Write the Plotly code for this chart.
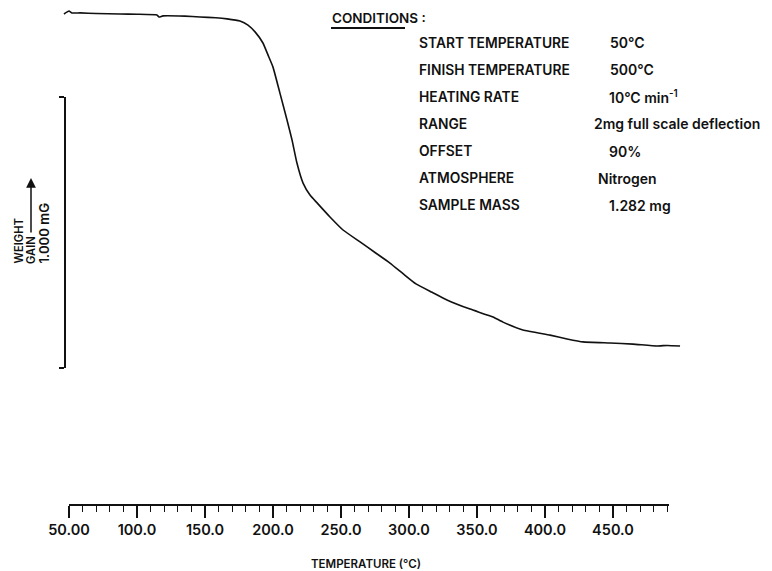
import plotly.graph_objects as go

# Thermogravimetric trace: temperature (°C) vs. sample weight (mg)
temperature_c = [46.3, 50.0, 52.2, 58.1, 70.0, 87.5, 100.0, 114.7, 116.2, 119.1,
                 135.0, 146.3, 158.0, 166.2, 175.7, 181.6, 186.8, 192.6, 196.3,
                 200.0, 205.1, 210.3, 214.0, 217.6, 222.1, 227.2, 232.4, 241.9,
                 251.5, 264.0, 275.0, 286.0, 296.0, 305.1, 317.0, 327.9, 344.9,
                 361.8, 369.1, 383.8, 403.7, 416.2, 428.0, 447.8, 464.7, 482.4,
                 490.0, 499.3]
weight_mg = [1.282, 1.293, 1.286, 1.286, 1.284, 1.282, 1.281, 1.278, 1.271, 1.275,
             1.274, 1.271, 1.268, 1.264, 1.256, 1.241, 1.216, 1.175, 1.131,
             1.086, 0.990, 0.891, 0.817, 0.732, 0.658, 0.614, 0.585, 0.533,
             0.485, 0.441, 0.402, 0.363, 0.322, 0.286, 0.255, 0.227, 0.193,
             0.164, 0.145, 0.116, 0.097, 0.083, 0.072, 0.068, 0.064, 0.057,
             0.059, 0.057]

# Weight scale bar (1.000 mg)
scale_ticks_mg = [0.0, 1.0]

# Temperature axis
axis_range_c = [50.0, 491.2]
axis_ticks_c = [50, 100, 150, 200, 250, 300, 350, 400, 450]
axis_tick_labels = ["50.00", "100.0", "150.0", "200.0", "250.0",
                    "300.0", "350.0", "400.0", "450.0"]

condition_labels = ["START TEMPERATURE", "FINISH TEMPERATURE", "HEATING RATE",
                    "RANGE", "OFFSET", "ATMOSPHERE", "SAMPLE MASS"]
condition_values = ["50°C", "500°C", "10°C min<sup>-1</sup>",
                    "2mg full scale deflection", "90%", "Nitrogen", "1.282 mg"]

W, H = 772, 571
INK = "#111111"
FONT = "Inter, Liberation Sans, Arial, sans-serif"
WT = 600


def px(x):
    return x / W


def py(y):
    return 1 - y / H


fig = go.Figure()

# main trace
fig.add_trace(go.Scatter(x=temperature_c, y=weight_mg, mode="lines",
                         line=dict(color=INK, width=1.6, shape="spline", smoothing=0.4),
                         xaxis="x", yaxis="y", hoverinfo="skip", showlegend=False))
# carriers for the scale bar and temperature axis
fig.add_trace(go.Scatter(x=[None], y=scale_ticks_mg, mode="lines", xaxis="x", yaxis="y2",
                         showlegend=False, hoverinfo="skip"))
fig.add_trace(go.Scatter(x=axis_range_c, y=[None, None], mode="lines", xaxis="x2", yaxis="y",
                         showlegend=False, hoverinfo="skip"))

hidden = dict(visible=False, showgrid=False, zeroline=False, fixedrange=True, automargin=False)

fig.update_layout(
    width=W, height=H, autosize=False,
    margin=dict(l=0, r=0, t=0, b=0, pad=0, autoexpand=False),
    paper_bgcolor="white", plot_bgcolor="rgba(0,0,0,0)",
    font=dict(family=FONT, color=INK, size=13, weight=WT),
    xaxis=dict(domain=[0, 1], range=[50 - 69 / 1.36, 50 + (W - 69) / 1.36], **hidden),
    yaxis=dict(domain=[0, 1], range=[1.282 - (H - 14) / 271.0, 1.282 + 14 / 271.0], **hidden),
    yaxis2=dict(domain=[py(368), py(97)], range=[0, 1.0], anchor="free", position=px(65),
                showline=True, linecolor=INK, linewidth=2,
                ticks="outside", ticklen=5, tickwidth=2, tickcolor=INK,
                tickvals=scale_ticks_mg, showticklabels=False, automargin=False,
                showgrid=False, zeroline=False, fixedrange=True),
    xaxis2=dict(domain=[px(69), px(669)], range=axis_range_c, anchor="free", position=py(505),
                showline=True, linecolor=INK, linewidth=2, automargin=False,
                ticks="outside", ticklen=12, tickwidth=1.6, tickcolor=INK,
                tickvals=axis_ticks_c, ticktext=axis_tick_labels,
                tickfont=dict(family=FONT, size=14.5, color=INK, weight=WT),
                minor=dict(dtick=10, tick0=50, ticks="outside", ticklen=6,
                           tickwidth=1.4, tickcolor=INK, showgrid=False),
                showgrid=False, zeroline=False, fixedrange=True),
)

ann = []
# conditions block
ann.append(dict(x=px(330), y=py(18), text="CONDITIONS :", xanchor="left", yanchor="middle",
                font=dict(size=13.5)))
row_y = [43, 70, 97, 124, 151, 178, 205]
value_x = [608, 608, 607, 592, 607, 596, 607]
for lab, val, yy, vx in zip(condition_labels, condition_values, row_y, value_x):
    ann.append(dict(x=px(417), y=py(yy), text=lab, xanchor="left", yanchor="middle",
                    font=dict(size=13.8)))
    ann.append(dict(x=px(vx), y=py(yy), text=val, xanchor="left", yanchor="middle",
                    font=dict(size=14)))

# weight axis caption
ann.append(dict(x=px(18), y=py(266), text="WEIGHT", textangle=-90,
                xanchor="center", yanchor="bottom", font=dict(size=11.2)))
ann.append(dict(x=px(31), y=py(266), text="GAIN", textangle=-90,
                xanchor="center", yanchor="bottom", font=dict(size=11.2)))
ann.append(dict(x=px(43), y=py(266), text="1.000 mG", textangle=-90,
                xanchor="center", yanchor="bottom", font=dict(size=13.2)))
ann.append(dict(x=px(31), y=py(178), ax=0, ay=56, text="", showarrow=True,
                arrowhead=2, arrowsize=1.3, arrowwidth=1.5, arrowcolor=INK))

# temperature axis caption
ann.append(dict(x=px(366), y=py(564), text="TEMPERATURE (°C)", xanchor="center",
                yanchor="middle", font=dict(size=11.5)))

for a in ann:
    a.setdefault("xref", "paper")
    a.setdefault("yref", "paper")
    a.setdefault("showarrow", False)
fig.update_layout(annotations=ann)

# underline beneath the heading
fig.add_shape(type="line", xref="paper", yref="paper",
              x0=px(331), x1=px(405), y0=py(28), y1=py(28),
              line=dict(color=INK, width=2))

fig.write_html("out.html")
